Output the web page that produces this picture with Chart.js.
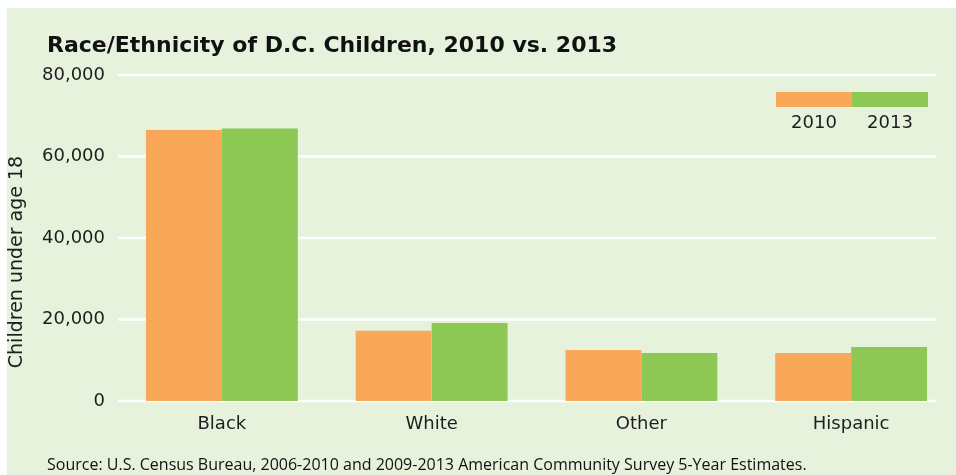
<!DOCTYPE html>
<html>
<head>
<meta charset="utf-8">
<script src="https://cdn.jsdelivr.net/npm/chart.js@4"></script>
<style>
  html, body { margin: 0; padding: 0; background: #fff; }
  #wrap { position: relative; width: 956px; height: 475px; overflow: hidden; }
  #panel { position: absolute; left: 7px; top: 8px; right: 0; bottom: 0; background: #e6f2dc; }
  #chart { position: absolute; left: 0; top: 0; }
  #source { position: absolute; left: 47px; top: 453px; font: 16px "Open Sans", sans-serif; color: #111; white-space: nowrap; }
</style>
</head>
<body>
<div id="wrap">
  <div id="panel"></div>
  <canvas id="chart" width="956" height="475"></canvas>
  <div id="source">Source: U.S. Census Bureau, 2006-2010 and 2009-2013 American Community Survey 5-Year Estimates.</div>
</div>
<script>
const TITLE = 'Race/Ethnicity of D.C. Children, 2010 vs. 2013';
const Y_TITLE = 'Children under age 18';
const categories = ['Black', 'White', 'Other', 'Hispanic'];
const seriesNames = ['2010', '2013'];
const values2010 = [66500, 17250, 12500, 11800];
const values2013 = [66900, 19150, 11800, 13250];
const yTicks = [0, 20000, 40000, 60000, 80000];

const ORANGE = '#f9a85a';
const GREEN = '#8dc855';
const FONT = '"DejaVu Sans", sans-serif';
const TEXT = '#1e1e1e';

// gridlines run a bit wider than the plot area, so draw them here
const gridPlugin = {
  id: 'grid',
  beforeDatasetsDraw(chart) {
    const ctx = chart.ctx;
    const y = chart.scales.y;
    ctx.save();
    ctx.strokeStyle = '#fff';
    ctx.lineWidth = 2.5;
    y.ticks.forEach(t => {
      const py = y.getPixelForValue(t.value);
      ctx.beginPath();
      ctx.moveTo(118, py);
      ctx.lineTo(936, py);
      ctx.stroke();
    });
    ctx.restore();
  }
};

const textPlugin = {
  id: 'texts',
  afterDraw(chart) {
    const ctx = chart.ctx;
    ctx.save();
    // title
    ctx.fillStyle = '#111';
    ctx.font = 'bold 22px ' + FONT;
    ctx.textAlign = 'left';
    ctx.textBaseline = 'alphabetic';
    ctx.fillText(TITLE, 47, 52);
    // y axis title
    ctx.translate(17, 262);
    ctx.rotate(-Math.PI / 2);
    ctx.font = '19px ' + FONT;
    ctx.fillStyle = TEXT;
    ctx.textAlign = 'center';
    ctx.textBaseline = 'middle';
    ctx.fillText(Y_TITLE, 0, 0);
    ctx.restore();

    // legend: two joined swatches with labels underneath
    ctx.save();
    ctx.font = '18px ' + FONT;
    ctx.textAlign = 'center';
    ctx.textBaseline = 'middle';
    chart.data.datasets.forEach((ds, i) => {
      const x = 776 + i * 76;
      ctx.fillStyle = ds.backgroundColor;
      ctx.fillRect(x, 92, 76, 15);
      ctx.fillStyle = TEXT;
      ctx.fillText(ds.label, x + 38, 123);
    });
    ctx.restore();
  }
};

new Chart(document.getElementById('chart'), {
  type: 'bar',
  data: {
    labels: categories,
    datasets: [
      { label: seriesNames[0], data: values2010, backgroundColor: ORANGE },
      { label: seriesNames[1], data: values2013, backgroundColor: GREEN }
    ]
  },
  options: {
    responsive: false,
    animation: false,
    layout: { padding: { top: 75, left: 0, right: 0, bottom: 0 } },
    datasets: { bar: { categoryPercentage: 0.724, barPercentage: 1 } },
    plugins: { legend: { display: false }, tooltip: { enabled: false } },
    scales: {
      x: {
        grid: { display: false },
        border: { display: false },
        ticks: { color: TEXT, font: { family: FONT, size: 18 }, padding: 5 },
        afterFit(s) { s.height = 74; }
      },
      y: {
        min: 0,
        max: yTicks[yTicks.length - 1],
        grid: { display: false },
        border: { display: false },
        afterBuildTicks(s) { s.ticks = yTicks.map(v => ({ value: v })); },
        ticks: {
          color: TEXT,
          font: { family: FONT, size: 18 },
          padding: 4,
          callback: v => v.toLocaleString('en-US')
        },
        afterFit(s) { s.width = 117; }
      }
    }
  },
  plugins: [gridPlugin, textPlugin]
});
</script>
</body>
</html>
